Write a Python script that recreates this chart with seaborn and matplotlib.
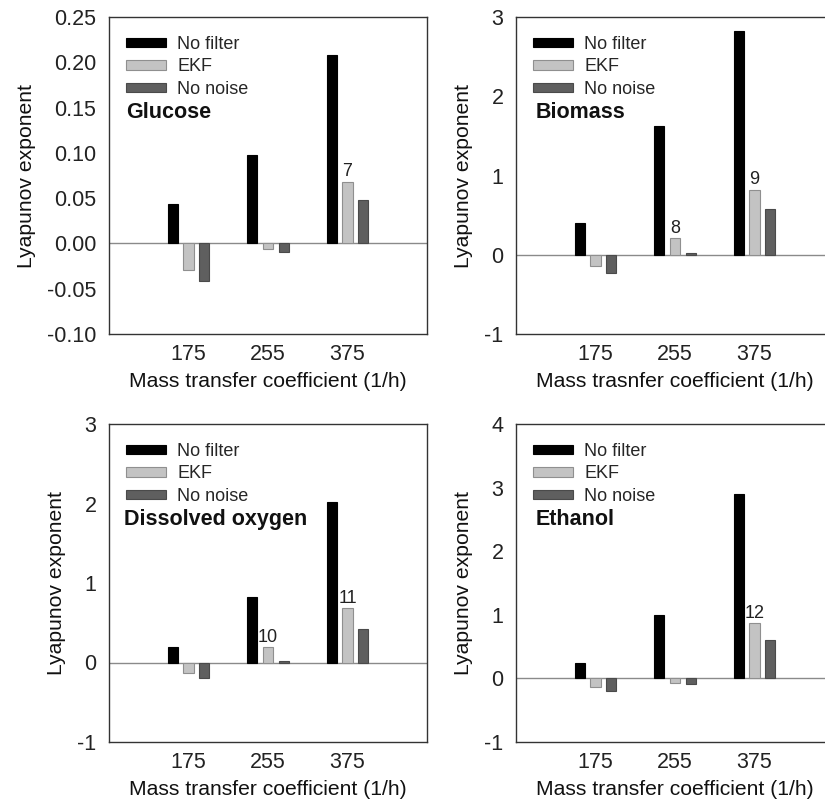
import numpy as np
import pandas as pd
import matplotlib
matplotlib.use("Agg")
import matplotlib.pyplot as plt
from matplotlib.patches import Patch
import seaborn as sns

# ---------------- data ----------------
categories = ["175", "255", "375"]
series = ["No filter", "EKF", "No noise"]

glucose_nofilter = [0.044, 0.098, 0.208]
glucose_ekf = [-0.029, -0.006, 0.068]
glucose_nonoise = [-0.042, -0.009, 0.048]

biomass_nofilter = [0.40, 1.62, 2.82]
biomass_ekf = [-0.14, 0.21, 0.82]
biomass_nonoise = [-0.23, 0.02, 0.58]

oxygen_nofilter = [0.20, 0.82, 2.02]
oxygen_ekf = [-0.13, 0.19, 0.68]
oxygen_nonoise = [-0.20, 0.015, 0.42]

ethanol_nofilter = [0.25, 1.00, 2.90]
ethanol_ekf = [-0.14, -0.07, 0.87]
ethanol_nonoise = [-0.20, -0.09, 0.60]

panel_titles = ["Glucose", "Biomass", "Dissolved oxygen", "Ethanol"]
xlabels = ["Mass transfer coefficient (1/h)", "Mass trasnfer coefficient (1/h)",
           "Mass transfer coefficient (1/h)", "Mass transfer coefficient (1/h)"]
ylabel = "Lyapunov exponent"

glucose_yticks = [-0.10, -0.05, 0.00, 0.05, 0.10, 0.15, 0.20, 0.25]
biomass_yticks = [-1, 0, 1, 2, 3]
oxygen_yticks = [-1, 0, 1, 2, 3]
ethanol_yticks = [-1, 0, 1, 2, 3, 4]

# EKF bar annotations: (category, label)
glucose_notes = [("375", "7")]
biomass_notes = [("255", "8"), ("375", "9")]
oxygen_notes = [("255", "10"), ("375", "11")]
ethanol_notes = [("375", "12")]

# ---------------- style ----------------
sns.set_style("white")
plt.rcParams["font.family"] = ["Liberation Sans", "DejaVu Sans"]
plt.rcParams["axes.unicode_minus"] = False

face_colors = {"No filter": "#000000", "EKF": "#c3c3c3", "No noise": "#5f5f5f"}
edge_colors = {"No filter": "#000000", "EKF": "#8f8f8f", "No noise": "#4a4a4a"}

panels = [
    (glucose_nofilter, glucose_ekf, glucose_nonoise, glucose_yticks, glucose_notes, "%.2f"),
    (biomass_nofilter, biomass_ekf, biomass_nonoise, biomass_yticks, biomass_notes, "%d"),
    (oxygen_nofilter, oxygen_ekf, oxygen_nonoise, oxygen_yticks, oxygen_notes, "%d"),
    (ethanol_nofilter, ethanol_ekf, ethanol_nonoise, ethanol_yticks, ethanol_notes, "%d"),
]

W, H = 825, 800
fig = plt.figure(figsize=(W / 100, H / 100), dpi=100)

ax_w = 318 / W
positions = [
    (109 / W, 1 - 334 / H, ax_w, 317 / H),
    (516 / W, 1 - 334 / H, ax_w, 317 / H),
    (109 / W, 1 - 742 / H, ax_w, 318 / H),
    (516 / W, 1 - 742 / H, ax_w, 318 / H),
]
title_x = [0.053, 0.063, 0.047, 0.063]

for i, (nf, ekf, nn, yticks, notes, fmt) in enumerate(panels):
    ax = fig.add_axes(positions[i])
    df = pd.DataFrame({
        "k": categories * 3,
        "series": [s for s in series for _ in categories],
        "value": list(nf) + list(ekf) + list(nn),
    })
    sns.barplot(data=df, x="k", y="value", hue="series", order=categories,
                hue_order=series, palette=face_colors, width=0.6, gap=0.37,
                saturation=1, errorbar=None, legend=False, ax=ax, zorder=3)
    for cont, s in zip(ax.containers, series):
        for bar in cont:
            bar.set_edgecolor(edge_colors[s])
            bar.set_linewidth(0.8)

    ax.axhline(0, color="#8a8a8a", lw=1.0, zorder=2)
    ax.set_xlim(-1, 3)
    ax.set_ylim(yticks[0], yticks[-1])
    ax.set_yticks(yticks)
    ax.set_yticklabels([fmt % t for t in yticks])

    # annotations above EKF bars
    ekf_cont = ax.containers[1]
    for cat, lab in notes:
        bar = ekf_cont[categories.index(cat)]
        ax.annotate(lab, (bar.get_x() + bar.get_width() / 2, bar.get_height()),
                    xytext=(0, 1), textcoords="offset points", ha="center",
                    va="bottom", fontsize=13, color="#222222")

    ax.set_xlabel(xlabels[i], fontsize=15.2, color="#111111", labelpad=5)
    ax.set_ylabel(ylabel, fontsize=15.2, color="#111111", labelpad=8)
    ax.tick_params(axis="both", direction="in", length=4, width=0.9,
                   labelsize=15.5, colors="#222222", pad=7)
    ax.tick_params(axis="y", pad=9)
    for sp in ax.spines.values():
        sp.set_visible(True)
        sp.set_linewidth(1.0)
        sp.set_color("#333333")

    handles = [Patch(facecolor=face_colors[s], edgecolor=edge_colors[s], lw=0.8)
               for s in series]
    ax.legend(handles, series, loc="upper left", bbox_to_anchor=(0.053, 0.94),
              frameon=False, fontsize=13, handlelength=2.2, handleheight=0.42,
              handletextpad=0.65, labelspacing=0.3, borderpad=0, borderaxespad=0)

    ax.text(title_x[i], 0.70, panel_titles[i], transform=ax.transAxes,
            fontsize=15.5, fontweight="bold", ha="left", va="center", color="#111111")

fig.savefig("out.png", dpi=100)
